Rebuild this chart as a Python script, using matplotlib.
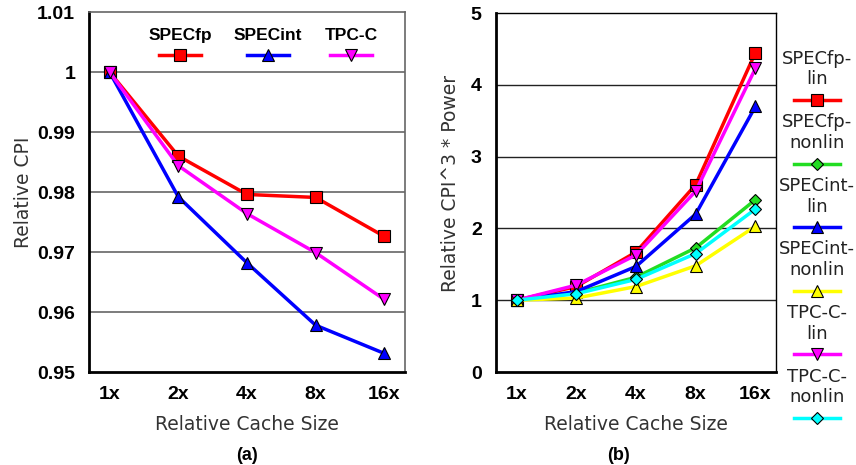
import matplotlib
matplotlib.use("Agg")
import matplotlib.pyplot as plt
from matplotlib.lines import Line2D

sizes = ["1x", "2x", "4x", "8x", "16x"]

# (a) relative CPI
cpi_fp = [1.0, 0.986, 0.9796, 0.9791, 0.9726]
cpi_int = [1.0, 0.9792, 0.9682, 0.9578, 0.9531]
cpi_tpcc = [1.0, 0.9844, 0.9764, 0.9699, 0.9621]

# (b) relative CPI^3 * power
fp_lin = [1.0, 1.19, 1.67, 2.61, 4.45]
fp_nonlin = [1.0, 1.10, 1.32, 1.73, 2.40]
int_lin = [1.0, 1.12, 1.47, 2.20, 3.70]
int_nonlin = [1.0, 1.03, 1.19, 1.48, 2.03]
tpcc_lin = [1.0, 1.21, 1.63, 2.52, 4.23]
tpcc_nonlin = [1.0, 1.09, 1.29, 1.65, 2.27]

bold = dict(family="Liberation Sans", weight="bold")
reg = dict(family="DejaVu Sans", color="#333333")

fig = plt.figure(figsize=(8.56, 4.65), dpi=100)
x = range(len(sizes))

# ---- panel (a)
ax = fig.add_axes([0.104, 0.2, 0.369, 0.774])
series_a = [("SPECfp", cpi_fp, "#ff0000", "s", 8),
            ("SPECint", cpi_int, "#0000ff", "^", 8),
            ("TPC-C", cpi_tpcc, "#ff00ff", "v", 8)]
for name, vals, c, m, ms in series_a:
    ax.plot(x, vals, color=c, lw=2.5, marker=m, ms=ms, mfc=c, mec="black", mew=0.8, zorder=3)
ax.set_xlim(-0.3, 4.3)
ax.set_ylim(0.95, 1.01)
ax.set_yticks([0.95, 0.96, 0.97, 0.98, 0.99, 1.0, 1.01])
ax.set_yticklabels(["0.95", "0.96", "0.97", "0.98", "0.99", "1", "1.01"], fontsize=14, **bold)
ax.set_xticks(list(x))
ax.set_xticklabels(sizes, fontsize=14, **bold)
for yv in [0.96, 0.97, 0.98, 0.99, 1.0]:
    ax.axhline(yv, color="#666666", lw=1.2, zorder=1)
ax.tick_params(length=0, pad=10)
for s in ["left", "bottom"]:
    ax.spines[s].set_linewidth(2)
for s in ["top", "right"]:
    ax.spines[s].set_color("#666666")
    ax.spines[s].set_linewidth(1.2)
ax.set_xlabel("Relative Cache Size", fontsize=13.5, labelpad=9, **reg)
ax.set_ylabel("Relative CPI", fontsize=13.5, labelpad=3, **reg)
fig.text(0.2885, 0.003, "(a)", fontsize=13, ha="center", va="bottom", **bold)

# inline legend for (a): label above handle
for (name, vals, c, m, ms), cx in zip(series_a, [0.288, 0.566, 0.829]):
    ax.text(cx, 0.936, name, transform=ax.transAxes, ha="center", va="center", fontsize=12.5, **bold)
    ax.add_line(Line2D([cx - 0.066, cx + 0.066], [0.88, 0.88], transform=ax.transAxes,
                       color=c, lw=2.5, clip_on=False))
    ax.add_line(Line2D([cx], [0.88], transform=ax.transAxes, marker=m, ms=ms,
                       mfc=c, mec="black", mew=0.8, ls="none", clip_on=False))

# ---- panel (b)
bx = fig.add_axes([0.579, 0.2, 0.328, 0.772])
series_b = [("SPECfp-\nlin", fp_lin, "#ff0000", "s", 8),
            ("SPECfp-\nnonlin", fp_nonlin, "#22dd22", "D", 6),
            ("SPECint-\nlin", int_lin, "#0000ff", "^", 8),
            ("SPECint-\nnonlin", int_nonlin, "#ffff00", "^", 8),
            ("TPC-C-\nlin", tpcc_lin, "#ff00ff", "v", 8),
            ("TPC-C-\nnonlin", tpcc_nonlin, "#00ffff", "D", 6)]
for name, vals, c, m, ms in series_b:
    bx.plot(x, vals, color=c, lw=2.5, marker=m, ms=ms, mfc=c, mec="black", mew=0.8, zorder=3)
bx.set_xlim(-0.35, 4.35)
bx.set_ylim(0, 5)
bx.set_yticks([0, 1, 2, 3, 4, 5])
bx.set_yticklabels(["0", "1", "2", "3", "4", "5"], fontsize=14, **bold)
bx.set_xticks(list(x))
bx.set_xticklabels(sizes, fontsize=14, **bold)
for yv in [1, 2, 3, 4]:
    bx.axhline(yv, color="#222222", lw=1.0, zorder=1)
bx.tick_params(length=0, pad=10)
for s in ["left", "bottom"]:
    bx.spines[s].set_linewidth(2)
for s in ["top", "right"]:
    bx.spines[s].set_linewidth(1.0)
bx.set_xlabel("Relative Cache Size", fontsize=13.5, labelpad=9, **reg)
bx.set_ylabel("Relative CPI^3 * Power", fontsize=13.5, **reg)
bx.yaxis.set_label_coords(-0.127, 0.525)
fig.text(0.7225, 0.003, "(b)", fontsize=13, ha="center", va="bottom", **bold)

# side legend for (b): label above handle
fx = 817 / 856
for i, (name, vals, c, m, ms) in enumerate(series_b):
    hy = 1 - (100 + 63.6 * i) / 465
    fig.text(fx, hy + 0.0667, name, ha="center", va="center", fontsize=13,
             linespacing=1.2, family="DejaVu Sans", color="#222222")
    fig.add_artist(Line2D([fx - 0.027, fx + 0.027], [hy, hy], transform=fig.transFigure,
                          color=c, lw=2.5))
    fig.add_artist(Line2D([fx], [hy], transform=fig.transFigure, marker=m, ms=ms,
                          mfc=c, mec="black", mew=0.8, ls="none"))

fig.savefig("out.png", dpi=100)
